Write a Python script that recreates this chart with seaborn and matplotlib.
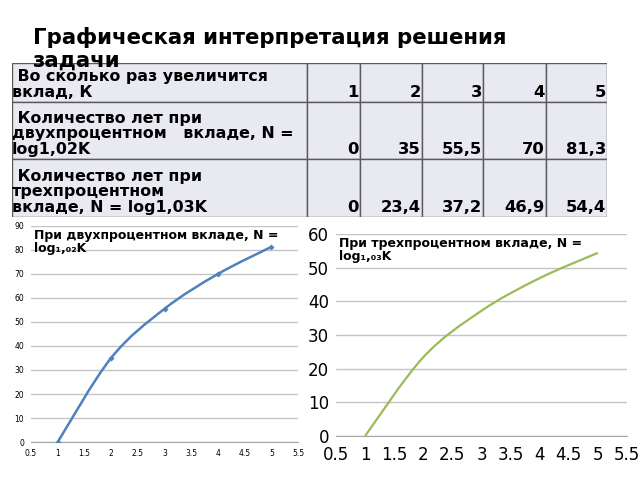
import numpy as np
import pandas as pd
import seaborn as sns
import matplotlib.pyplot as plt
from matplotlib.path import Path
from matplotlib.patches import PathPatch, Rectangle

# данные из таблицы
K = [1, 2, 3, 4, 5]
N_two = [0, 35, 55.5, 70, 81.3]
N_three = [0, 23.4, 37.2, 46.9, 54.4]
N_two_text = ["0", "35", "55,5", "70", "81,3"]
N_three_text = ["0", "23,4", "37,2", "46,9", "54,4"]
row_titles = [
    " Во сколько раз увеличится\nвклад, К",
    " Количество лет при\nдвухпроцентном   вкладе, N =\nlog1,02K",
    " Количество лет при\nтрехпроцентном\nвкладе, N = log1,03K",
]
x_ticks = [0.5, 1, 1.5, 2, 2.5, 3, 3.5, 4, 4.5, 5, 5.5]
x_tick_labels = ["0.5", "1", "1.5", "2", "2.5", "3", "3.5", "4", "4.5", "5", "5.5"]
title_two = "При двухпроцентном вкладе, N =\nlog\u2081,\u2080\u2082K"
title_three = "При трехпроцентном вкладе, N =\nlog\u2081,\u2080\u2083K"

sns.set_style("white")
plt.rcParams['font.family'] = ['DejaVu Sans']
plt.rcParams['text.color'] = 'black'

W, H = 640, 480
fig = plt.figure(figsize=(6.4, 4.8), dpi=100)


def px_axes(x0, y0, x1, y1):
    # прямоугольник в пикселях (от верхнего левого угла)
    return fig.add_axes([x0 / W, 1 - y1 / H, (x1 - x0) / W, (y1 - y0) / H])


def smooth_path(xs, ys):
    # сглаженная линия как в Excel (кривые Безье)
    pts = np.column_stack([xs, ys]).astype(float)
    ext = np.vstack([pts[0], pts, pts[-1]])
    verts = [pts[0]]
    codes = [Path.MOVETO]
    for i in range(len(pts) - 1):
        p0, p1, p2, p3 = ext[i], ext[i + 1], ext[i + 2], ext[i + 3]
        c1 = p1 + (p2 - p0) / 6
        c2 = p2 - (p3 - p1) / 6
        verts += [c1, c2, p2]
        codes += [Path.CURVE4] * 3
    return Path(verts, codes)


# заголовок
fig.text(33 / W, 1 - 37 / H, "Графическая интерпретация решения",
         fontsize=15.3, fontweight="bold", va="center", ha="left")
fig.text(33 / W, 1 - 61 / H, "задачи",
         fontsize=15.3, fontweight="bold", va="center", ha="left")

# таблица
tab = px_axes(12, 63, 607, 217)
col_edges = [0, 295, 348, 410, 471, 534, 595]
row_edges = [0, 39, 96, 154]
tab.set_xlim(0, 595)
tab.set_ylim(154, 0)
tab.axis("off")
rows = [[str(k) for k in K], N_two_text, N_three_text]
for r in range(3):
    for c in range(6):
        tab.add_patch(Rectangle((col_edges[c], row_edges[r]),
                                col_edges[c + 1] - col_edges[c],
                                row_edges[r + 1] - row_edges[r],
                                facecolor="#e8e9f1", edgecolor="#5a5a5a", lw=1))
    tab.text(0, row_edges[r + 1] - 2, row_titles[r], ha="left", va="bottom",
             fontsize=11.4, fontweight="bold", linespacing=1.05)
    for c in range(5):
        tab.text(col_edges[c + 2] - 1, row_edges[r + 1] - 2, rows[r][c],
                 ha="right", va="bottom", fontsize=11.8, fontweight="bold")

# графики
specs = [
    (px_axes(31, 226, 298, 442), N_two, "#4f81bd", 90, 5.5, title_two, True, 1.8, 2),
    (px_axes(336, 234, 627, 436), N_three, "#9bbb59", 60, 12, title_three, False, 1.6, 4),
]
for ax, vals, color, ymax, fs, title, markers, lw, xpad in specs:
    df = pd.DataFrame({"K": K, "N": vals})
    ax.add_patch(PathPatch(smooth_path(df["K"], df["N"]), facecolor="none",
                           edgecolor=color, lw=lw, zorder=3))
    if markers:
        sns.scatterplot(data=df, x="K", y="N", ax=ax, color=color, marker="D",
                        s=8, edgecolor=color, zorder=4)
    ax.set_xlim(0.5, 5.5)
    ax.set_ylim(0, ymax)
    ax.set_xticks(x_ticks)
    ax.set_xticklabels(x_tick_labels)
    ax.set_yticks(np.arange(0, ymax + 1, 10))
    ax.set_xlabel("")
    ax.set_ylabel("")
    ax.yaxis.grid(True, color="#c4c4c4", lw=1)
    ax.set_axisbelow(True)
    for s in ["top", "right", "left"]:
        ax.spines[s].set_visible(False)
    ax.spines["bottom"].set_color("#a6a6a6")
    ax.tick_params(axis="both", labelsize=fs, length=3, width=1, color="#a6a6a6",
                   pad=2, labelcolor="black")
    ax.tick_params(axis="x", pad=xpad)
    ax.text(0.01, 0.985, title, transform=ax.transAxes, ha="left", va="top",
            fontsize=9, fontweight="bold", linespacing=1.0)

fig.savefig("out.png", dpi=100)
